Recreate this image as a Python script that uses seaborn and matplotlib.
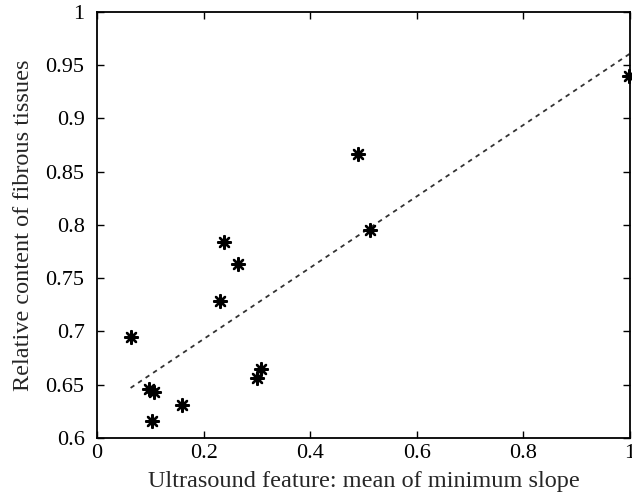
import numpy as np
import pandas as pd
import matplotlib
matplotlib.use('Agg')
import matplotlib.pyplot as plt
import seaborn as sns

# values
feature = [0.063, 0.098, 0.107, 0.103, 0.160, 0.231, 0.238, 0.265,
           0.300, 0.308, 0.490, 0.512, 0.998]
fibrous = [0.695, 0.646, 0.643, 0.616, 0.631, 0.729, 0.784, 0.763,
           0.656, 0.665, 0.867, 0.795, 0.940]
fit_x = [0.063, 1.0]
fit_y = [0.647, 0.961]

x_ticks = [0, 0.2, 0.4, 0.6, 0.8, 1.0]
x_labels = ['0', '0.2', '0.4', '0.6', '0.8', '1']
y_ticks = [0.6, 0.65, 0.7, 0.75, 0.8, 0.85, 0.9, 0.95, 1.0]
y_labels = ['0.6', '0.65', '0.7', '0.75', '0.8', '0.85', '0.9', '0.95', '1']


def main():
    sns.set_style('ticks')
    plt.rcParams['font.family'] = ['Liberation Serif', 'DejaVu Serif']

    points = pd.DataFrame({'feature': feature, 'fibrous': fibrous})
    fit = pd.DataFrame({'x': fit_x, 'y': fit_y})

    fig = plt.figure(figsize=(6.32, 4.94), dpi=100)
    ax = fig.add_axes([0.1535, 0.1134, 0.8435, 0.8623])

    # dashed least squares line
    sns.lineplot(x='x', y='y', data=fit, ax=ax, color='#333333',
                 linewidth=1.3, linestyle=(0, (2.5, 2.5)))
    sns.scatterplot(x='feature', y='fibrous', data=points, ax=ax,
                    marker=(8, 2, 0), s=85, color='black',
                    edgecolor='black', linewidth=1.7, clip_on=False,
                    zorder=3)

    ax.set_xlim(0, 1)
    ax.set_ylim(0.6, 1)
    ax.set_xticks(x_ticks)
    ax.set_xticklabels(x_labels)
    ax.set_yticks(y_ticks)
    ax.set_yticklabels(y_labels)
    ax.tick_params(direction='in', length=5, width=1, labelsize=16,
                   top=True, right=True, colors='black', pad=9)
    ax.tick_params(axis='x', pad=4)
    for side in ax.spines.values():
        side.set_visible(True)
        side.set_linewidth(1.3)
        side.set_color('black')

    ax.set_xlabel('Ultrasound feature: mean of minimum slope', fontsize=17.5)
    ax.xaxis.set_label_coords(0.5, -0.078)
    ax.set_ylabel('Relative content of fibrous tissues', fontsize=17.5)
    ax.yaxis.set_label_coords(-0.118, 0.5)

    plt.savefig('out.png', dpi=100)


if __name__ == '__main__':
    main()
